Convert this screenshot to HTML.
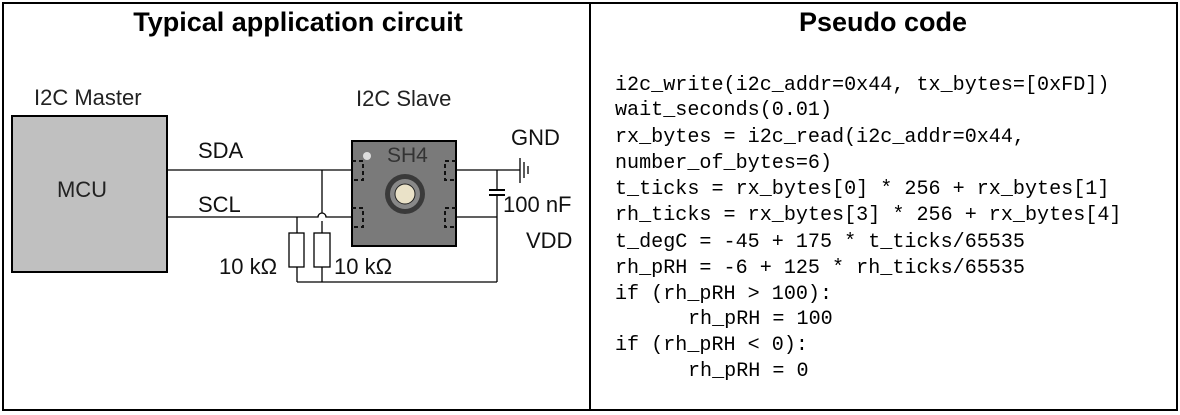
<!DOCTYPE html>
<html><head><meta charset="utf-8"><style>
html,body{margin:0;padding:0;background:#fff;}
svg{display:block;}
.s{font-family:"Liberation Sans",Arial,sans-serif;}
.m{font-family:"Liberation Mono",monospace;font-size:20.1px;fill:#000;}
</style></head><body>
<svg width="1180" height="415" viewBox="0 0 1180 415" xmlns="http://www.w3.org/2000/svg">
<rect x="3" y="3" width="1174" height="407" fill="none" stroke="#000" stroke-width="2"/>
<line x1="590" y1="3" x2="590" y2="410" stroke="#000" stroke-width="2"/>
<text class="s" x="298" y="31" text-anchor="middle" font-size="27" font-weight="bold">Typical application circuit</text>
<text class="s" x="883" y="31" text-anchor="middle" font-size="27" font-weight="bold">Pseudo code</text>
<text class="s" x="34" y="105" font-size="22" fill="#222">I2C Master</text>
<text class="s" x="356" y="106" font-size="22" fill="#222">I2C Slave</text>
<rect x="12" y="116" width="155" height="156" fill="#c0c0c0" stroke="#000" stroke-width="2"/>
<text class="s" x="82" y="197" text-anchor="middle" font-size="22" fill="#222">MCU</text>
<g stroke="#000" stroke-width="1.3" fill="none">
<line x1="167" y1="170" x2="352" y2="170"/>
<path d="M167 217 H318 a4 4 0 0 1 8 0 H352"/>
<line x1="322" y1="170" x2="322" y2="213"/>
<line x1="322" y1="221" x2="322" y2="233"/>
<line x1="297" y1="217" x2="297" y2="233"/>
<rect x="289" y="233" width="15" height="34" fill="#fff"/>
<rect x="314" y="233" width="16" height="34" fill="#fff"/>
<line x1="297" y1="267" x2="297" y2="282"/>
<line x1="322" y1="267" x2="322" y2="282"/>
<line x1="297" y1="282" x2="497" y2="282"/>
<line x1="456" y1="170" x2="520" y2="170"/>
<line x1="456" y1="217" x2="497" y2="217"/>
<line x1="497" y1="170" x2="497" y2="190"/>
<line x1="489" y1="190" x2="505" y2="190" stroke-width="2"/>
<line x1="489" y1="195" x2="505" y2="195" stroke-width="2"/>
<line x1="497" y1="195" x2="497" y2="282"/>
<line x1="520" y1="158" x2="520" y2="183"/>
<line x1="524" y1="162" x2="524" y2="178"/>
<line x1="528" y1="166" x2="528" y2="174"/>
</g>
<rect x="352" y="141" width="104" height="105" fill="#7a7a7a" stroke="#000" stroke-width="2"/>
<circle cx="367" cy="156" r="4" fill="#ddd"/>
<text class="s" x="387" y="162" font-size="21" fill="#333">SH4</text>
<circle cx="405" cy="194" r="20" fill="#3a3a3a"/>
<circle cx="405" cy="194" r="15" fill="#888"/>
<circle cx="405" cy="194" r="10" fill="#eae2c8" stroke="#222"/>
<g stroke="#111" stroke-width="2" fill="none" stroke-dasharray="4 3">
<path d="M352 161 H363 V180 H352"/>
<path d="M352 208 H363 V227 H352"/>
<path d="M456 161 H445 V180 H456"/>
<path d="M456 208 H445 V227 H456"/>
</g>
<g class="s" font-size="22" fill="#111">
<text x="198" y="158">SDA</text>
<text x="198" y="212">SCL</text>
<text x="511" y="145">GND</text>
<text x="503" y="212">100 nF</text>
<text x="526" y="248">VDD</text>
<text x="219" y="274">10 kΩ</text>
<text x="334" y="274">10 kΩ</text>
</g>
<g class="m" xml:space="preserve">
<text x="615" y="90">i2c_write(i2c_addr=0x44, tx_bytes=[0xFD])</text>
<text x="615" y="115">wait_seconds(0.01)</text>
<text x="615" y="142">rx_bytes = i2c_read(i2c_addr=0x44,</text>
<text x="615" y="168">number_of_bytes=6)</text>
<text x="615" y="194">t_ticks = rx_bytes[0] * 256 + rx_bytes[1]</text>
<text x="615" y="220">rh_ticks = rx_bytes[3] * 256 + rx_bytes[4]</text>
<text x="615" y="247">t_degC = -45 + 175 * t_ticks/65535</text>
<text x="615" y="273">rh_pRH = -6 + 125 * rh_ticks/65535</text>
<text x="615" y="299">if (rh_pRH &gt; 100):</text>
<text x="688" y="324">rh_pRH = 100</text>
<text x="615" y="350">if (rh_pRH &lt; 0):</text>
<text x="688" y="376">rh_pRH = 0</text>
</g>
</svg>
</body></html>
